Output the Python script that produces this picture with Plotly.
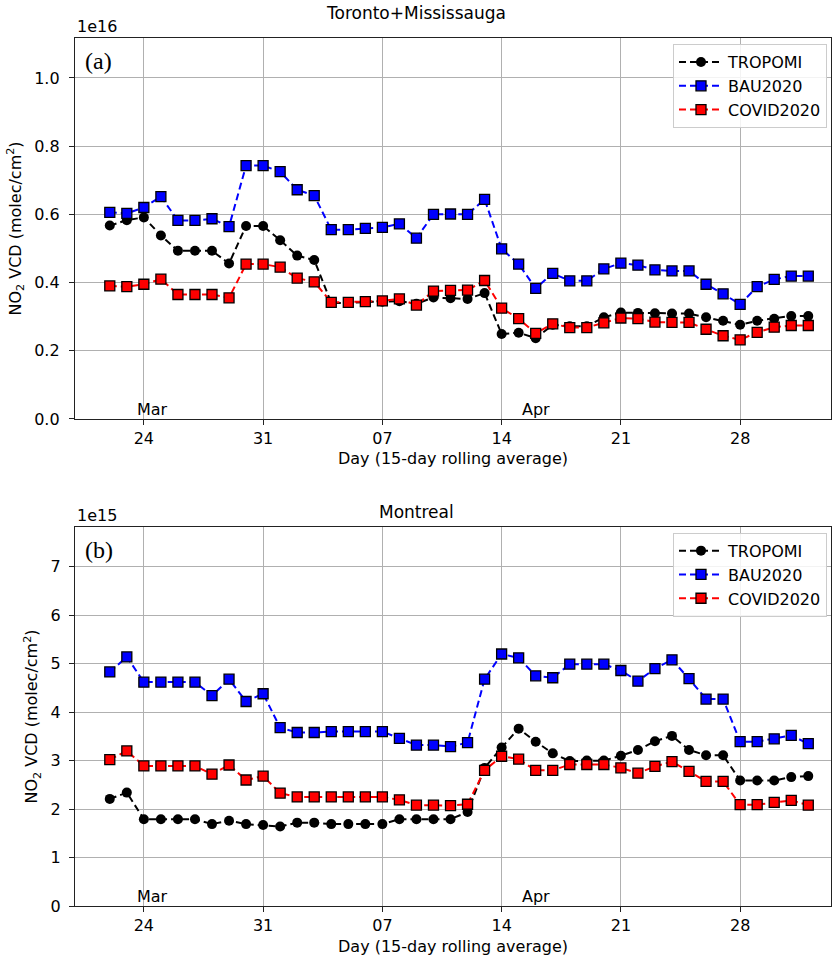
import plotly.graph_objects as go
import pandas as pd

# ---------------- data ----------------
dates = pd.date_range("2020-03-22", "2020-05-02", freq="D")

# Toronto+Mississauga, units of 1e16 molec/cm2
tor_tropomi = [0.567, 0.583, 0.591, 0.538, 0.493, 0.493, 0.493, 0.456, 0.566, 0.566,
               0.524, 0.479, 0.466, 0.340, 0.340, 0.343, 0.344, 0.345, 0.338, 0.356,
               0.354, 0.352, 0.369, 0.249, 0.253, 0.237, 0.276, 0.272, 0.272, 0.298,
               0.312, 0.311, 0.310, 0.309, 0.309, 0.298, 0.288, 0.276, 0.288, 0.294,
               0.302, 0.302]
tor_bau = [0.606, 0.603, 0.620, 0.652, 0.582, 0.582, 0.587, 0.564, 0.743, 0.743,
           0.725, 0.672, 0.655, 0.555, 0.555, 0.559, 0.562, 0.572, 0.530, 0.600,
           0.601, 0.600, 0.644, 0.499, 0.454, 0.383, 0.427, 0.405, 0.405, 0.440,
           0.457, 0.451, 0.437, 0.434, 0.434, 0.395, 0.367, 0.336, 0.388, 0.409,
           0.419, 0.419]
tor_covid = [0.390, 0.388, 0.395, 0.410, 0.365, 0.365, 0.365, 0.355, 0.454, 0.454,
             0.445, 0.413, 0.402, 0.342, 0.342, 0.344, 0.346, 0.352, 0.334, 0.375,
             0.377, 0.378, 0.406, 0.325, 0.294, 0.251, 0.279, 0.268, 0.268, 0.282,
             0.296, 0.294, 0.284, 0.283, 0.283, 0.263, 0.244, 0.232, 0.254, 0.269,
             0.274, 0.274]

# Montreal, units of 1e15 molec/cm2
mtl_tropomi = [2.21, 2.34, 1.79, 1.79, 1.79, 1.79, 1.69, 1.76, 1.69, 1.67,
               1.64, 1.72, 1.72, 1.69, 1.69, 1.69, 1.69, 1.79, 1.79, 1.79,
               1.79, 1.94, 2.85, 3.27, 3.66, 3.39, 3.15, 2.99, 3.00, 3.00,
               3.10, 3.22, 3.40, 3.51, 3.22, 3.11, 3.11, 2.59, 2.59, 2.59,
               2.66, 2.68]
mtl_bau = [4.83, 5.14, 4.62, 4.62, 4.62, 4.62, 4.34, 4.68, 4.22, 4.38,
           3.68, 3.58, 3.58, 3.60, 3.60, 3.60, 3.60, 3.46, 3.32, 3.32,
           3.29, 3.37, 4.68, 5.20, 5.12, 4.75, 4.71, 4.99, 4.99, 4.99,
           4.86, 4.64, 4.90, 5.08, 4.69, 4.27, 4.27, 3.39, 3.39, 3.45,
           3.52, 3.35]
mtl_covid = [3.02, 3.20, 2.89, 2.89, 2.89, 2.89, 2.72, 2.91, 2.60, 2.68,
             2.33, 2.25, 2.25, 2.25, 2.25, 2.25, 2.25, 2.19, 2.08, 2.08,
             2.07, 2.10, 2.80, 3.09, 3.03, 2.80, 2.80, 2.92, 2.92, 2.92,
             2.85, 2.74, 2.88, 2.98, 2.78, 2.57, 2.57, 2.09, 2.09, 2.14,
             2.18, 2.08]

series_names = ["TROPOMI", "BAU2020", "COVID2020"]
tick_dates = ["2020-03-24", "2020-03-31", "2020-04-07", "2020-04-14", "2020-04-21", "2020-04-28"]
tick_text = ["24", "31", "07", "14", "21", "28"]

# ---------------- style ----------------
FONT = "DejaVu Sans"
colors = ["#000000", "#0000ff", "#ff0000"]
symbols = ["circle", "square", "square"]
DASH = "7px,4px"

fig = go.Figure()

panels = [
    ("x", "y", "legend", [tor_tropomi, tor_bau, tor_covid]),
    ("x2", "y2", "legend2", [mtl_tropomi, mtl_bau, mtl_covid]),
]
for xa, ya, lg, vals in panels:
    for name, v, c, s in zip(series_names, vals, colors, symbols):
        fig.add_trace(go.Scatter(
            x=dates, y=v, name=name, mode="lines+markers",
            xaxis=xa, yaxis=ya, legend=lg,
            line=dict(color=c, width=2, dash=DASH),
            marker=dict(symbol=s, size=10, color=c,
                        line=dict(color="#000000", width=1.3 if s == "square" else 0)),
        ))

axis_common = dict(
    showgrid=True, gridcolor="#b0b0b0", gridwidth=1,
    showline=True, linecolor="#222222", linewidth=1.3, mirror=True,
    ticks="outside", ticklen=5, tickcolor="#222222",
    tickfont=dict(family=FONT, size=16, color="#000000"),
    zeroline=False,
)
xrange = ["2020-03-19 23:00", "2020-05-03 08:00"]

ytitle = "NO<sub>2</sub> VCD (molec/cm<sup>2</sup>)"
xtitle = "Day (15-day rolling average)"

top_dom = [0.5611, 1.0]
bot_dom = [0.0, 0.4366]

legend_common = dict(x=0.791, xanchor="left", yanchor="top", itemwidth=44,
                     bgcolor="rgba(255,255,255,0.85)", bordercolor="#cccccc", borderwidth=1,
                     font=dict(family=FONT, size=16), tracegroupgap=0)

fig.update_layout(
    width=832, height=960,
    margin=dict(l=75, r=1, t=38, b=54),
    paper_bgcolor="white", plot_bgcolor="white",
    font=dict(family=FONT, size=16, color="#000000"),
    xaxis=dict(axis_common, domain=[0, 1], anchor="y", type="date", range=xrange,
               tickvals=tick_dates, ticktext=tick_text,
               title=dict(text=xtitle, font=dict(size=16), standoff=5)),
    yaxis=dict(axis_common, domain=top_dom, anchor="x", range=[0, 1.117],
               tickvals=[0, 0.2, 0.4, 0.6, 0.8, 1.0], tickformat=".1f",
               ticklabelstandoff=6,
               title=dict(text=ytitle, font=dict(size=16), standoff=8)),
    xaxis2=dict(axis_common, domain=[0, 1], anchor="y2", type="date", range=xrange,
                tickvals=tick_dates, ticktext=tick_text),
    yaxis2=dict(axis_common, domain=bot_dom, anchor="x2", range=[0, 7.82],
                tickvals=[0, 1, 2, 3, 4, 5, 6, 7],
                ticklabelstandoff=5,
                title=dict(text=ytitle, font=dict(size=16), standoff=8)),
    legend=dict(legend_common, y=0.993),
    legend2=dict(legend_common, y=0.4300),
    showlegend=True,
)

TITLE_X = (416 - 75) / 756.0
ann = []
for dom, title, tshift, offs, lab in [(top_dom, "Toronto+Mississauga", 13, "1e16", "(a)"),
                                      (bot_dom, "Montreal", 3, "1e15", "(b)")]:
    ann.append(dict(text=title, xref="paper", yref="paper", x=TITLE_X, y=dom[1],
                    xanchor="center", yanchor="bottom", yshift=tshift, showarrow=False,
                    font=dict(family=FONT, size=17)))
    ann.append(dict(text=offs, xref="paper", yref="paper", x=0, y=dom[1],
                    xanchor="left", yanchor="bottom", yshift=0, showarrow=False,
                    font=dict(family=FONT, size=16)))
    ann.append(dict(text=lab, xref="paper", yref="paper", x=0, y=dom[1],
                    xanchor="left", yanchor="top", xshift=8, yshift=-8, showarrow=False,
                    font=dict(family="Liberation Serif", size=24)))
for xr, yr in [("x", "y"), ("x2", "y2")]:
    ann.append(dict(text="Mar", xref=xr, yref=yr + " domain", x="2020-03-24 12:00", y=0,
                    xanchor="center", yanchor="bottom", yshift=-2, showarrow=False,
                    font=dict(family=FONT, size=16)))
    ann.append(dict(text="Apr", xref=xr, yref=yr + " domain", x="2020-04-16", y=0,
                    xanchor="center", yanchor="bottom", yshift=-2, showarrow=False,
                    font=dict(family=FONT, size=16)))
# bottom x-axis title placed explicitly so it stays inside the page
ann.append(dict(text=xtitle, xref="x2 domain", yref="y2 domain", x=0.5, y=0,
                xanchor="center", yanchor="middle", yshift=-40, showarrow=False,
                font=dict(family=FONT, size=16)))
fig.update_layout(annotations=ann)

fig.write_html("out.html", config={"displayModeBar": False},
               post_script="document.body.style.margin='0';document.body.style.padding='0';")
